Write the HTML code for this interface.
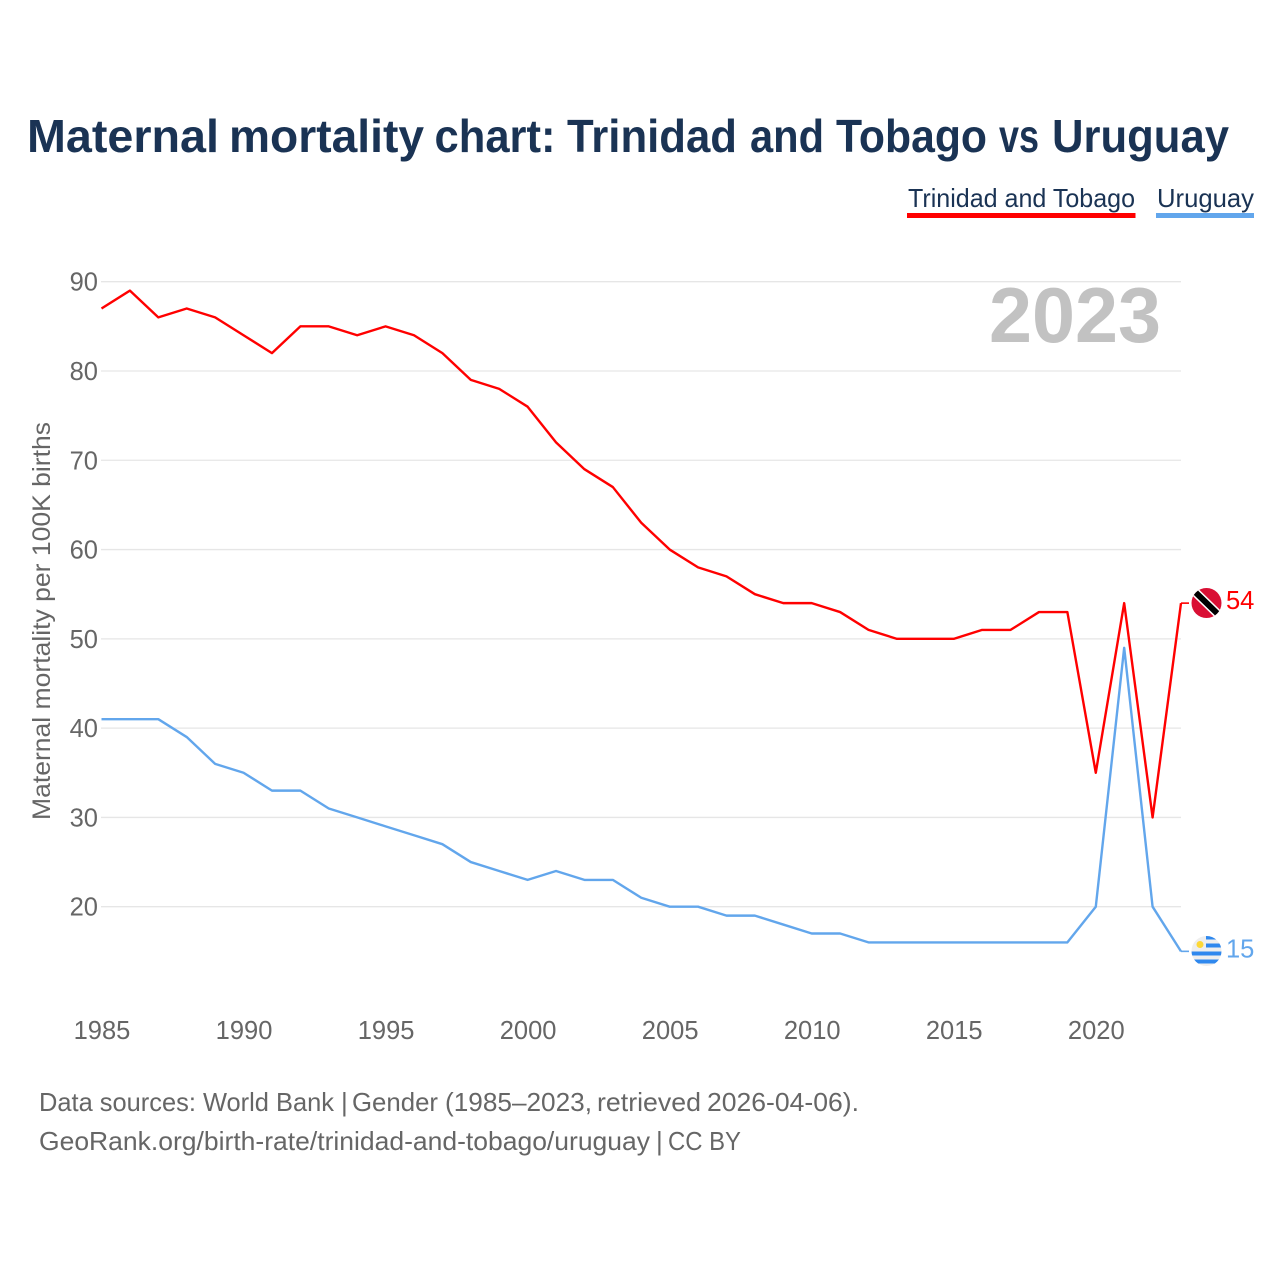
<!DOCTYPE html>
<html lang="en">
<head>
<meta charset="utf-8">
<title>Maternal mortality chart: Trinidad and Tobago vs Uruguay</title>
<style>
html,body{margin:0;padding:0;background:#fff}
svg{display:block}
text{font-family:"Liberation Sans",sans-serif}
</style>
</head>
<body>
<svg id="chart" xmlns="http://www.w3.org/2000/svg" width="1280" height="1280" viewBox="0 0 1280 1280">
  <defs>
    <clipPath id="tt-clip"><circle cx="1206.5" cy="603" r="15"/></clipPath>
    <clipPath id="uy-clip"><circle cx="1206.5" cy="951" r="15"/></clipPath>
  </defs>
  <rect width="1280" height="1280" fill="#fff"/>
  <text y="152" font-size="46" font-weight="700" fill="#1a3354"><tspan x="27" textLength="192" lengthAdjust="spacingAndGlyphs">Maternal</tspan> <tspan x="229" textLength="195" lengthAdjust="spacingAndGlyphs">mortality</tspan> <tspan x="434.5" textLength="121" lengthAdjust="spacingAndGlyphs">chart:</tspan> <tspan x="567" textLength="170" lengthAdjust="spacingAndGlyphs">Trinidad</tspan> <tspan x="750" textLength="74" lengthAdjust="spacingAndGlyphs">and</tspan> <tspan x="836" textLength="151" lengthAdjust="spacingAndGlyphs">Tobago</tspan> <tspan x="999" textLength="40" lengthAdjust="spacingAndGlyphs">vs</tspan> <tspan x="1052" textLength="177" lengthAdjust="spacingAndGlyphs">Uruguay</tspan></text>

  <g>
    <text x="908" y="207" font-size="26" fill="#1a3354" textLength="227" lengthAdjust="spacingAndGlyphs">Trinidad and Tobago</text>
    <rect x="907" y="213" width="228.500" height="5" fill="#ff0000"/>
  </g>
  <g>
    <text x="1157" y="207" font-size="26" fill="#1a3354" textLength="97" lengthAdjust="spacingAndGlyphs">Uruguay</text>
    <rect x="1156" y="213" width="98" height="5" fill="#62a6ec"/>
  </g>

  <text x="1161" y="342" font-size="78" font-weight="700" fill="#c2c2c2" text-anchor="end" textLength="172" lengthAdjust="spacingAndGlyphs">2023</text>

  <g id="grid"></g>
  <g id="y-ticks"></g>
  <g id="x-ticks"></g>

  <text transform="translate(50,621) rotate(-90)" font-size="25" fill="#666" text-anchor="middle" textLength="398" lengthAdjust="spacingAndGlyphs">Maternal mortality per 100K births</text>

  <g id="series"></g>
  <g id="end-labels"></g>

  <g id="flag-tt" clip-path="url(#tt-clip)">
    <rect x="1190" y="587" width="33" height="33" fill="#d90f34"/>
    <line x1="1190" y1="587" x2="1223" y2="619" stroke="#fff" stroke-width="9"/>
    <line x1="1190" y1="587" x2="1223" y2="619" stroke="#000" stroke-width="6"/>
  </g>
  <g id="flag-uy" clip-path="url(#uy-clip)">
    <rect x="1190" y="935" width="33" height="33" fill="#eeeeee"/>
    <rect x="1206" y="936" width="17" height="3.500" fill="#2f88ee"/>
    <rect x="1206" y="943.500" width="17" height="4" fill="#2f88ee"/>
    <rect x="1190" y="951.500" width="33" height="4" fill="#2f88ee"/>
    <rect x="1190" y="959.500" width="33" height="4" fill="#2f88ee"/>
    <circle cx="1200" cy="944.500" r="3.500" fill="#fdd835"/>
  </g>

  <text y="1111" font-size="26" fill="#666"><tspan x="39" textLength="295" lengthAdjust="spacingAndGlyphs">Data sources: World Bank</tspan> <tspan x="341">|</tspan> <tspan x="352" textLength="86" lengthAdjust="spacingAndGlyphs">Gender</tspan> <tspan x="445" textLength="147" lengthAdjust="spacingAndGlyphs">(1985–2023,</tspan> <tspan x="597" textLength="104" lengthAdjust="spacingAndGlyphs">retrieved</tspan> <tspan x="707" textLength="152" lengthAdjust="spacingAndGlyphs">2026-04-06).</tspan></text>
  <text y="1150" font-size="26" fill="#666"><tspan x="39" textLength="611" lengthAdjust="spacingAndGlyphs">GeoRank.org/birth-rate/trinidad-and-tobago/uruguay</tspan> <tspan x="656">|</tspan> <tspan x="668" textLength="73" lengthAdjust="spacingAndGlyphs">CC BY</tspan></text>
</svg>
<script>
const years = [1985,1986,1987,1988,1989,1990,1991,1992,1993,1994,1995,1996,1997,1998,1999,2000,2001,2002,2003,2004,2005,2006,2007,2008,2009,2010,2011,2012,2013,2014,2015,2016,2017,2018,2019,2020,2021,2022,2023];
const trinidadValues = [87,89,86,87,86,84,82,85,85,84,85,84,82,79,78,76,72,69,67,63,60,58,57,55,54,54,53,51,50,50,50,51,51,53,53,35,54,30,54];
const uruguayValues = [41,41,41,39,36,35,33,33,31,30,29,28,27,25,24,23,24,23,23,21,20,20,19,19,18,17,17,16,16,16,16,16,16,16,16,20,49,20,15];
const yTickLabels = [20,30,40,50,60,70,80,90];
const xTickLabels = [1985,1990,1995,2000,2005,2010,2015,2020];

const NS = 'http://www.w3.org/2000/svg';
function xScale(year){ return 101.5 + (year - 1985) * (1181 - 101.5) / 38; }
function yScale(value){ return 281.7 + (90 - value) * (907 - 282) / 70; }
function make(tag, attrs, parent, text){
  const el = document.createElementNS(NS, tag);
  for (const k in attrs) el.setAttribute(k, attrs[k]);
  if (text !== undefined) el.textContent = text;
  parent.appendChild(el);
  return el;
}
const grid = document.getElementById('grid');
const yTicks = document.getElementById('y-ticks');
const xTicks = document.getElementById('x-ticks');
const series = document.getElementById('series');
const endLabels = document.getElementById('end-labels');

yTickLabels.forEach(function(v){
  const line = make('line', {x1:101, x2:1181, y1:yScale(v), y2:yScale(v), stroke:'#e6e6e6', 'stroke-width':1.3}, grid);
  
  
  const label = make('text', {x:98, y:yScale(v)+9, 'font-size':25.500, fill:'#666', 'text-anchor':'end'}, yTicks, v);
  
  
});
xTickLabels.forEach(function(y){
  const label = make('text', {x:xScale(y) + 0.5, y:1039, 'font-size':25.500, fill:'#666', 'text-anchor':'middle'}, xTicks, y);
  
  
});

function drawSeries(values, color, name, textColor){
  const pts = values.map(function(v, i){ return xScale(years[i]).toFixed(2) + ',' + yScale(v).toFixed(2); });
  const last = values[values.length - 1];
  const lineEl = make('polyline', {points:pts.join(' '), fill:'none', stroke:color, 'stroke-width':2.4, 'stroke-linejoin':'round'}, series);
  
  
  const lastX = xScale(years[years.length - 1]);
  const leader = make('line', {x1:lastX, x2:lastX + 8, y1:yScale(last), y2:yScale(last), stroke:color, 'stroke-width':1.6}, series);
  
  
  const label = make('text', {x:1226, y:yScale(last)+6, 'font-size':25.500, fill:textColor}, endLabels, last);
  
  
}
drawSeries(uruguayValues, '#62a6ec', 'uruguay', '#62a6ec');
drawSeries(trinidadValues, '#ff0000', 'trinidad-and-tobago', '#ff0000');
</script>
</body>
</html>
